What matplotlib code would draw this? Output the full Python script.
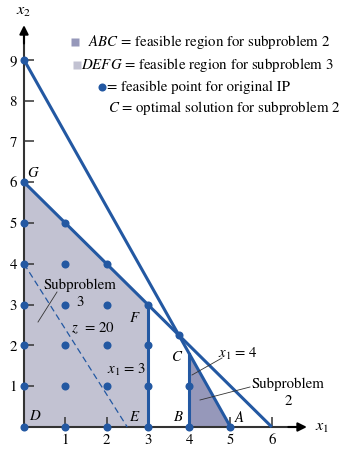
import numpy as np
import matplotlib
matplotlib.use("Agg")
import matplotlib.pyplot as plt

plt.rcParams['font.family'] = ['STIXGeneral', 'DejaVu Serif']
plt.rcParams['mathtext.fontset'] = 'stix'

# integer points drawn as dots
pts_x = [0, 0, 0, 0, 0, 0, 0, 1, 1, 1, 1, 1, 1, 2, 2, 2, 2, 2, 3, 3, 3, 3, 4, 4, 5]
pts_y = [0, 1, 2, 3, 4, 5, 6, 0, 1, 2, 3, 4, 5, 0, 1, 2, 3, 4, 0, 1, 2, 3, 0, 1, 0]
extra_x = [0, 3.75]
extra_y = [9, 2.25]

# constraint lines
c1_x, c1_y = [0, 6], [6, 0]      # x1 + x2 = 6
c2_x, c2_y = [0, 5], [9, 0]      # 9x1 + 5x2 = 45
z_x, z_y = [0, 2.5], [4, 0]      # z = 20

# feasible regions
defg_x, defg_y = [0, 3, 3, 0], [0, 0, 3, 6]
abc_x, abc_y = [4, 5, 4], [0, 0, 1.8]
v3_x, v3_y = [3, 3], [0, 3]
v4_x, v4_y = [4, 4], [0, 1.8]

xticks = [1, 2, 3, 4, 5, 6]
yticks = [1, 2, 3, 4, 5, 6, 7, 8, 9]

BLUE = '#2358a2'
AXC = '#333333'
LIGHT = '#c2c2d2'
DARK = '#9698ba'
FS = 10.7


def px(x, y):
    ''' pixel position -> data coordinates '''
    return (x - 24) / 41.3, (427 - y) / 40.8


def main():
    fig = plt.figure(figsize=(3.44, 4.49), dpi=100)
    ax = fig.add_axes([0, 0, 1, 1])
    ax.set_xlim(-24 / 41.3, (344 - 24) / 41.3)
    ax.set_ylim(-22 / 40.8, 427 / 40.8)

    for s in ['top', 'right']:
        ax.spines[s].set_visible(False)
    ax.spines['left'].set_position(('data', 0))
    ax.spines['bottom'].set_position(('data', 0))
    ax.spines['left'].set_bounds(0, 9.6)
    ax.spines['bottom'].set_bounds(0, 6.6)
    for s in ['left', 'bottom']:
        ax.spines[s].set_color(AXC)
        ax.spines[s].set_linewidth(1.5)
    ax.set_xticks(xticks)
    ax.set_yticks(yticks)
    ax.tick_params(direction='in', length=7, width=1.1, color=AXC,
                   labelsize=FS, pad=5)
    ax.annotate('', xy=(0, 9.85), xytext=(0, 9.4),
                arrowprops=dict(arrowstyle='-|>', color='black', lw=1.5,
                                mutation_scale=13, shrinkA=0, shrinkB=0))
    ax.annotate('', xy=(6.85, 0), xytext=(6.4, 0),
                arrowprops=dict(arrowstyle='-|>', color='black', lw=1.5,
                                mutation_scale=13, shrinkA=0, shrinkB=0))

    ax.fill(defg_x, defg_y, color=LIGHT, lw=0, zorder=1)
    ax.fill(abc_x, abc_y, color=DARK, lw=0, zorder=1)

    ax.plot(c1_x, c1_y, color=BLUE, lw=2.2, solid_capstyle='butt', zorder=3)
    ax.plot(c2_x, c2_y, color=BLUE, lw=2.2, solid_capstyle='butt', zorder=3)
    ax.plot(v3_x, v3_y, color=BLUE, lw=2.2, zorder=3)
    ax.plot(v4_x, v4_y, color=BLUE, lw=2.2, zorder=3)
    ax.plot(z_x, z_y, color=BLUE, lw=0.9, ls=(0, (5, 3)), zorder=3)

    ax.plot(pts_x, pts_y, 'o', color=BLUE, ms=5.8, mec='none', zorder=4)
    ax.plot(extra_x, extra_y, 'o', color=BLUE, ms=5.8, mec='none', zorder=4)

    # axis labels
    ax.text(*px(24, 12), '$x_2$', fontsize=FS + 1, ha='center', va='center')
    ax.text(*px(322, 428), '$x_1$', fontsize=FS + 1, ha='center', va='center')

    # legend
    ax.plot(*px(75, 42), 's', color=DARK, ms=5.5, mec='none')
    ax.text(*px(88, 42), '$ABC$ = feasible region for subproblem 2',
            fontsize=FS, va='center')
    ax.plot(*px(77, 65), 's', color=LIGHT, ms=5.5, mec='none')
    ax.text(*px(81, 65), '$DEFG$ = feasible region for subproblem 3',
            fontsize=FS, va='center')
    ax.plot(*px(102, 87), 'o', color=BLUE, ms=5.8, mec='none')
    ax.text(*px(107, 87), '= feasible point for original IP',
            fontsize=FS, va='center')
    ax.text(*px(108, 108), '$C$ = optimal solution for subproblem 2',
            fontsize=FS, va='center')

    # point letters
    for lab, x, y in [('G', 33, 173), ('D', 35, 416), ('E', 135, 417),
                      ('B', 178, 417), ('A', 240, 417), ('F', 135, 318),
                      ('C', 177, 357)]:
        ax.text(*px(x, y), '$%s$' % lab, fontsize=FS, ha='center', va='center')

    ax.text(*px(127, 370), '$x_1$ = 3', fontsize=FS, ha='center', va='center')
    ax.text(*px(93, 328), '$z$  = 20', fontsize=FS, ha='center', va='center')
    ax.text(*px(238, 354), '$x_1$ = 4', fontsize=FS, ha='center', va='center')
    ax.text(*px(288, 393), 'Subproblem\n2', fontsize=FS, ha='center',
            va='center', linespacing=1.3)
    ax.text(*px(80, 294), 'Subproblem\n3', fontsize=FS, ha='center',
            va='center', linespacing=1.3)

    # leader lines
    for (a, b), (c, d) in [((38, 322), (57, 292)), ((192, 375), (222, 358)),
                           ((200, 400), (250, 387))]:
        p, q = px(a, b), px(c, d)
        ax.plot([p[0], q[0]], [p[1], q[1]], color='#333333', lw=0.6, zorder=5)

    fig.savefig('out.png', dpi=100)


if __name__ == '__main__':
    main()
